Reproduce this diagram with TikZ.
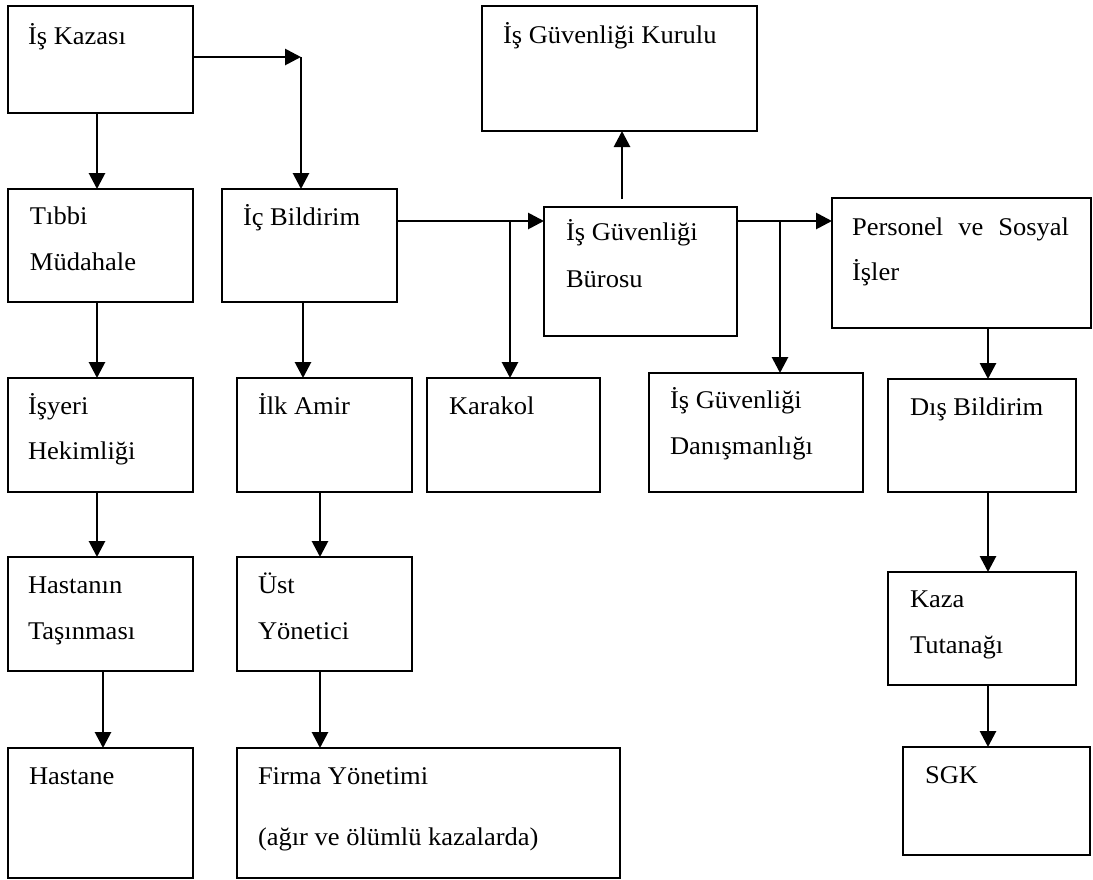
\documentclass[tikz,border=0pt]{standalone}
\usepackage{fontspec}
\setmainfont{Liberation Serif}[FakeStretch=1.04]
\usetikzlibrary{arrows.meta}
\begin{document}
\begin{tikzpicture}[x=1pt,y=-1pt,
  box/.style={draw,line width=2pt,rectangle,inner sep=0pt,outer sep=0pt,anchor=north west},
  lbl/.style={anchor=base west,inner sep=0pt,outer sep=0pt,font=\fontsize{25.5pt}{30pt}\selectfont},
  arr/.style={line width=2.8pt,-{Triangle[length=16pt,width=16pt]}}]
\useasboundingbox (0,0) rectangle (1093,879);
\fill[white] (0,0) rectangle (1093,879);
% boxes
\node[box,minimum width=185pt,minimum height=107pt] (kaz) at (8,6) {};
\node[box,minimum width=185pt,minimum height=113pt] (tib) at (8,189) {};
\node[box,minimum width=175pt,minimum height=113pt] (ic) at (222,189) {};
\node[box,minimum width=275pt,minimum height=125pt] (kur) at (482,6) {};
\node[box,minimum width=193pt,minimum height=129pt] (bur) at (544,207) {};
\node[box,minimum width=259pt,minimum height=130pt] (per) at (832,198) {};
\node[box,minimum width=185pt,minimum height=114pt] (isy) at (8,378) {};
\node[box,minimum width=175pt,minimum height=114pt] (ilk) at (237,378) {};
\node[box,minimum width=173pt,minimum height=114pt] (kar) at (427,378) {};
\node[box,minimum width=214pt,minimum height=119pt] (dan) at (649,373) {};
\node[box,minimum width=188pt,minimum height=113pt] (dis) at (888,379) {};
\node[box,minimum width=185pt,minimum height=114pt] (has) at (8,557) {};
\node[box,minimum width=175pt,minimum height=114pt] (ust) at (237,557) {};
\node[box,minimum width=185pt,minimum height=130pt] (hsn) at (8,748) {};
\node[box,minimum width=383pt,minimum height=130pt] (fir) at (237,748) {};
\node[box,minimum width=188pt,minimum height=113pt] (kza) at (888,572) {};
\node[box,minimum width=187pt,minimum height=108pt] (sgk) at (903,747) {};
% labels
\node[lbl] (kaz-t) at (28,44) {İş Kazası};
\node[lbl] (tib-t1) at (30,224) {Tıbbi};
\node[lbl] (tib-t2) at (30,270) {Müdahale};
\node[lbl] (ic-t) at (243,225) {İç Bildirim};
\node[lbl] (kur-t) at (503,43) {İş Güvenliği Kurulu};
\node[lbl] (bur-t1) at (566,240) {İş Güvenliği};
\node[lbl] (bur-t2) at (566,287) {Bürosu};
\node[lbl] (per-t1) at (852,235) {\makebox[217pt][s]{Personel ve Sosyal}};
\node[lbl] (per-t2) at (852,280) {İşler};
\node[lbl] (isy-t1) at (28,414) {İşyeri};
\node[lbl] (isy-t2) at (28,459) {Hekimliği};
\node[lbl] (ilk-t) at (258,414) {İlk Amir};
\node[lbl] (kar-t) at (449,414) {Karakol};
\node[lbl] (dan-t1) at (670,408) {İş Güvenliği};
\node[lbl] (dan-t2) at (670,454) {Danışmanlığı};
\node[lbl] (dis-t) at (910,415) {Dış Bildirim};
\node[lbl] (has-t1) at (28,593) {Hastanın};
\node[lbl] (has-t2) at (28,639) {Taşınması};
\node[lbl] (ust-t1) at (258,593) {Üst};
\node[lbl] (ust-t2) at (258,639) {Yönetici};
\node[lbl] (hsn-t) at (29,784) {Hastane};
\node[lbl] (fir-t1) at (258,784) {Firma Yönetimi};
\node[lbl] (fir-t2) at (258,845) {(ağır ve ölümlü kazalarda)};
\node[lbl] (kza-t1) at (910,607) {Kaza};
\node[lbl] (kza-t2) at (910,653) {Tutanağı};
\node[lbl] (sgk-t) at (925,783) {SGK};
% connectors
\coordinate (c1) at (301,57);
\coordinate (j0) at (622,199);
\coordinate (j1) at (510,221);
\coordinate (j2) at (780,221);
\draw[arr] (kaz.south -| 97,0) -- (tib.north -| 97,0);
\draw[arr] (kaz.east |- c1) -- (c1);
\draw[arr] (c1) -- (ic.north -| c1);
\draw[arr] (ic.east |- j1) -- (bur.west |- j1);
\draw[arr] (j1) -- (kar.north -| j1);
\draw[arr] (j0) -- (kur.south -| j0);
\draw[arr] (bur.east |- j2) -- (per.west |- j2);
\draw[arr] (j2) -- (dan.north -| j2);
\draw[arr] (per.south -| 988,0) -- (dis.north -| 988,0);
\draw[arr] (dis.south -| 988,0) -- (kza.north -| 988,0);
\draw[arr] (kza.south -| 988,0) -- (sgk.north -| 988,0);
\draw[arr] (tib.south -| 97,0) -- (isy.north -| 97,0);
\draw[arr] (isy.south -| 97,0) -- (has.north -| 97,0);
\draw[arr] (has.south -| 103,0) -- (hsn.north -| 103,0);
\draw[arr] (ic.south -| 303,0) -- (ilk.north -| 303,0);
\draw[arr] (ilk.south -| 320,0) -- (ust.north -| 320,0);
\draw[arr] (ust.south -| 320,0) -- (fir.north -| 320,0);
\end{tikzpicture}
\end{document}
